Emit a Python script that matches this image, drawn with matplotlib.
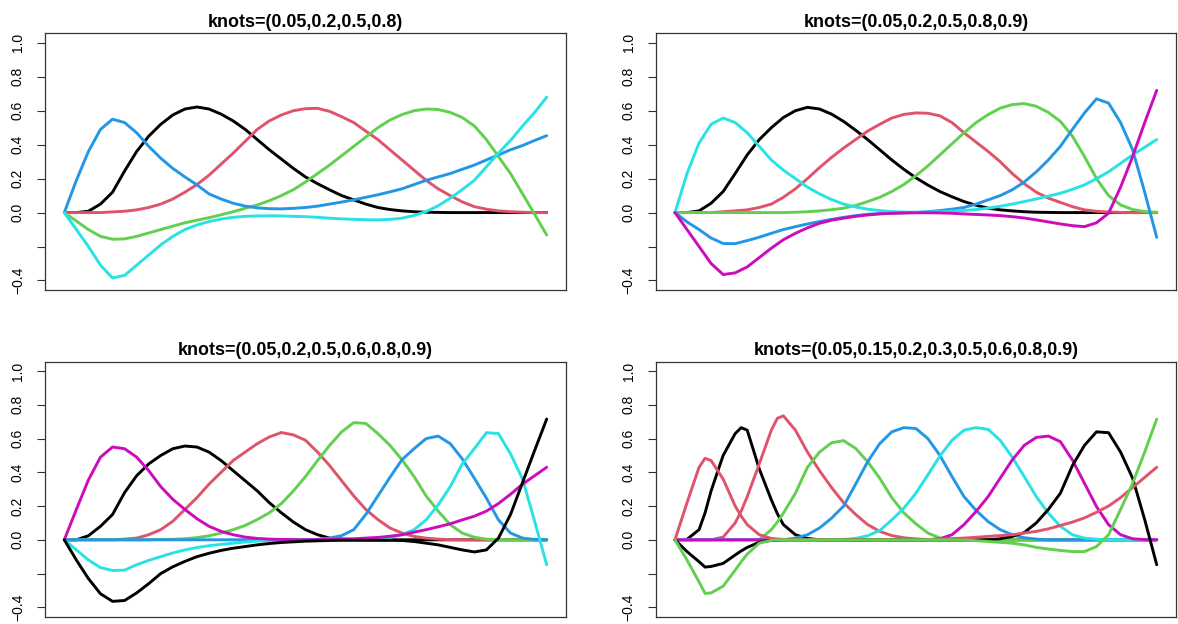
import matplotlib
matplotlib.use("Agg")
import matplotlib.pyplot as plt

plt.rcParams['font.family'] = ['Liberation Sans', 'DejaVu Sans']

# line colours, recycled column by column
palette = ["#000000", "#DF536B", "#61D04F", "#2297E6", "#28E2E5", "#CD0BBC"]

titles = ["knots=(0.05,0.2,0.5,0.8)",
          "knots=(0.05,0.2,0.5,0.8,0.9)",
          "knots=(0.05,0.2,0.5,0.6,0.8,0.9)",
          "knots=(0.05,0.15,0.2,0.3,0.5,0.6,0.8,0.9)"]

# sample positions
xs = [0, .025, .05, .075, .1, .125, .15, .175, .2, .225, .25, .275, .3, .325,
      .35, .375, .4, .425, .45, .475, .5, .525, .55, .575, .6, .625, .65, .675,
      .7, .725, .75, .775, .8, .825, .85, .875, .9, .925, .95, .975, 1.0]
# last panel has narrow bumps near the start, so a few extra samples there
xs4 = [0, .025, .05, .0625, .075, .1, .125, .1375, .15, .175, .2, .2125, .225,
       .25, .275, .3, .325, .35, .375, .4, .425, .45, .475, .5, .525, .55, .575,
       .6, .625, .65, .675, .7, .725, .75, .775, .8, .825, .85, .875, .9, .925,
       .95, .975, 1.0]

# 4 knots -> 5 basis columns
p1_b1 = [0, 0, 0.008, 0.05, 0.12, 0.245, 0.36, 0.45, 0.52, 0.575, 0.61, 0.622,
         0.61, 0.58, 0.54, 0.49, 0.43, 0.37, 0.315, 0.26, 0.21, 0.17, 0.134, 0.1,
         0.075, 0.05, 0.03, 0.018, 0.01, 0.005, 0.002, 0.001] + [0] * 9
p1_b2 = [0, 0, 0, 0, 0.004, 0.008, 0.016, 0.03, 0.05, 0.08, 0.12, 0.165, 0.22,
         0.285, 0.35, 0.42, 0.49, 0.54, 0.575, 0.6, 0.612, 0.614, 0.596, 0.565,
         0.53, 0.48, 0.43, 0.37, 0.31, 0.25, 0.19, 0.14, 0.1, 0.063, 0.035, 0.02,
         0.01, 0.005, 0.002, 0, 0]
p1_b3 = [0, -0.05, -0.1, -0.14, -0.157, -0.155, -0.14, -0.12, -0.1, -0.08, -0.06,
         -0.045, -0.03, -0.013, 0.005, 0.025, 0.045, 0.07, 0.1, 0.135, 0.18, 0.23,
         0.28, 0.335, 0.39, 0.445, 0.5, 0.545, 0.577, 0.6, 0.61, 0.607, 0.59, 0.56,
         0.51, 0.43, 0.33, 0.23, 0.11, -0.01, -0.132]
p1_b4 = [0, 0.19, 0.36, 0.49, 0.55, 0.53, 0.47, 0.39, 0.32, 0.26, 0.21, 0.163,
         0.11, 0.08, 0.055, 0.038, 0.028, 0.023, 0.022, 0.025, 0.03, 0.038, 0.05,
         0.062, 0.075, 0.09, 0.105, 0.122, 0.14, 0.165, 0.19, 0.21, 0.23, 0.255,
         0.28, 0.31, 0.34, 0.37, 0.395, 0.425, 0.453]
p1_b5 = [0, -0.1, -0.2, -0.31, -0.385, -0.37, -0.31, -0.25, -0.19, -0.14, -0.1,
         -0.073, -0.053, -0.038, -0.028, -0.022, -0.02, -0.019, -0.02, -0.022,
         -0.024, -0.028, -0.033, -0.037, -0.04, -0.042, -0.043, -0.04, -0.033,
         -0.017, 0.006, 0.04, 0.085, 0.135, 0.19, 0.27, 0.35, 0.425, 0.51, 0.59,
         0.68]

# 5 knots -> 6 columns
p2_b1 = [0, 0, 0.01, 0.055, 0.124, 0.23, 0.34, 0.43, 0.5, 0.56, 0.6, 0.62, 0.61,
         0.58, 0.537, 0.485, 0.43, 0.37, 0.31, 0.255, 0.205, 0.162, 0.124, 0.093,
         0.065, 0.043, 0.026, 0.016, 0.01, 0.005, 0.002, 0.001] + [0] * 9
p2_b2 = [0, 0, 0, 0, 0.005, 0.01, 0.016, 0.03, 0.05, 0.09, 0.14, 0.2, 0.265,
         0.325, 0.38, 0.43, 0.48, 0.52, 0.557, 0.578, 0.587, 0.585, 0.57, 0.53,
         0.47, 0.415, 0.36, 0.3, 0.23, 0.17, 0.12, 0.085, 0.06, 0.035, 0.016,
         0.008, 0.003, 0.001, 0, 0, 0]
p2_b3 = [0] * 10 + [0.002, 0.005, 0.01, 0.017, 0.026, 0.042, 0.065, 0.09, 0.124,
                    0.165, 0.217, 0.275, 0.34, 0.405, 0.47, 0.53, 0.577, 0.615,
                    0.636, 0.642, 0.626, 0.59, 0.537, 0.45, 0.33, 0.2, 0.1, 0.045,
                    0.018, 0.006, 0.002]
p2_b4 = [0, -0.055, -0.1, -0.15, -0.182, -0.183, -0.165, -0.145, -0.122, -0.1,
         -0.083, -0.067, -0.053, -0.04, -0.028, -0.018, -0.01, -0.006, -0.004,
         -0.002, 0, 0.005, 0.012, 0.02, 0.03, 0.05, 0.075, 0.1, 0.134, 0.18, 0.24,
         0.31, 0.39, 0.49, 0.587, 0.67, 0.645, 0.53, 0.37, 0.12, -0.146]
p2_b5 = [0, 0.23, 0.41, 0.52, 0.557, 0.53, 0.47, 0.39, 0.31, 0.25, 0.2, 0.15, 0.11,
         0.077, 0.05, 0.033, 0.02, 0.012, 0.006, 0.003, 0.002, 0.003, 0.005, 0.008,
         0.012, 0.018, 0.026, 0.037, 0.05, 0.065, 0.08, 0.097, 0.114, 0.137, 0.163,
         0.2, 0.24, 0.29, 0.34, 0.385, 0.43]
p2_b6 = [0, -0.1, -0.2, -0.3, -0.365, -0.355, -0.32, -0.265, -0.21, -0.16, -0.122,
         -0.09, -0.063, -0.045, -0.033, -0.022, -0.014, -0.008, -0.004, -0.002,
         -0.001, -0.001, -0.002, -0.004, -0.008, -0.011, -0.014, -0.018, -0.024,
         -0.032, -0.043, -0.055, -0.067, -0.077, -0.083, -0.06, -0.004, 0.15, 0.33,
         0.53, 0.72]

# 6 knots -> 7 columns
p3_b1 = [0, 0, 0.024, 0.08, 0.15, 0.28, 0.38, 0.45, 0.5, 0.54, 0.556, 0.55, 0.52,
         0.47, 0.41, 0.35, 0.29, 0.22, 0.16, 0.105, 0.06, 0.03, 0.01, 0.004,
         0.002] + [0] * 16
p3_b2 = [0, 0, 0, 0, 0, 0.004, 0.01, 0.03, 0.06, 0.11, 0.18, 0.25, 0.33, 0.4, 0.47,
         0.52, 0.57, 0.61, 0.636, 0.622, 0.59, 0.52, 0.44, 0.35, 0.26, 0.18, 0.12,
         0.07, 0.04, 0.02, 0.01, 0.004, 0.001] + [0] * 8
p3_b3 = [0] * 8 + [0.002, 0.003, 0.006, 0.013, 0.024, 0.04, 0.06, 0.085, 0.12,
                   0.16, 0.215, 0.29, 0.375, 0.47, 0.56, 0.64, 0.695, 0.69, 0.63,
                   0.56, 0.475, 0.375, 0.26, 0.17, 0.09, 0.04, 0.015, 0.004, 0.001,
                   0, 0, 0, 0]
p3_b4 = [0] * 21 + [0.003, 0.01, 0.025, 0.06, 0.15, 0.26, 0.37, 0.475, 0.54, 0.6,
                    0.615, 0.57, 0.48, 0.365, 0.247, 0.118, 0.04, 0.01, 0.002, 0]
p3_b5 = [0, -0.06, -0.12, -0.165, -0.182, -0.18, -0.148, -0.122, -0.1, -0.078,
         -0.06, -0.046, -0.035, -0.027, -0.02, -0.013, -0.008, -0.005, -0.003,
         -0.001, 0, 0, 0, 0, 0.001, 0.002, 0.004, 0.013, 0.03, 0.06, 0.118, 0.207,
         0.315, 0.45, 0.54, 0.635, 0.63, 0.51, 0.36, 0.11, -0.148]
p3_b6 = [0, 0.18, 0.355, 0.49, 0.55, 0.54, 0.49, 0.41, 0.315, 0.24, 0.18, 0.125,
         0.08, 0.05, 0.03, 0.016, 0.008, 0.004, 0.002, 0.001, 0, 0.001, 0.002,
         0.004, 0.006, 0.01, 0.014, 0.021, 0.03, 0.045, 0.06, 0.077, 0.095, 0.118,
         0.14, 0.17, 0.215, 0.27, 0.33, 0.38, 0.43]
p3_b7 = [0, -0.12, -0.23, -0.32, -0.365, -0.36, -0.315, -0.26, -0.2, -0.16, -0.128,
         -0.1, -0.08, -0.063, -0.05, -0.04, -0.03, -0.022, -0.016, -0.012, -0.008,
         -0.006, -0.004, -0.003, -0.003, -0.003, -0.003, -0.003, -0.004, -0.01,
         -0.02, -0.03, -0.045, -0.06, -0.072, -0.06, 0.01, 0.15, 0.34, 0.53, 0.716]

# 8 knots -> 9 columns (sampled at xs4)
p4_b1 = [0, 0.003, 0.06, 0.16, 0.29, 0.5, 0.63, 0.665, 0.65, 0.42, 0.237, 0.155,
         0.09, 0.03, 0.008, 0] + [0] * 28
p4_b2 = [0, 0, 0, 0, 0, 0.016, 0.1, 0.17, 0.256, 0.45, 0.65, 0.72, 0.735, 0.65,
         0.52, 0.41, 0.31, 0.22, 0.15, 0.09, 0.05, 0.025, 0.012, 0.005,
         0.002] + [0] * 19
p4_b3 = [0] * 10 + [0.06, 0.105, 0.158, 0.276, 0.43, 0.52, 0.575, 0.588, 0.542,
                    0.463, 0.365, 0.25, 0.16, 0.095, 0.04, 0.01, 0.002] + [0] * 17
p4_b4 = [0] * 13 + [0.01, 0.03, 0.07, 0.128, 0.2, 0.33, 0.463, 0.57, 0.64, 0.665,
                    0.66, 0.6, 0.5, 0.375, 0.256, 0.174, 0.108, 0.06, 0.03, 0.012,
                    0.004] + [0] * 10
p4_b5 = [0] * 17 + [0.002, 0.008, 0.024, 0.055, 0.118, 0.187, 0.276, 0.385, 0.497,
                    0.59, 0.65, 0.665, 0.655, 0.59, 0.49, 0.375, 0.256, 0.158, 0.08,
                    0.03, 0.01, 0.003] + [0] * 5
p4_b6 = [0] * 25 + [0.006, 0.03, 0.09, 0.168, 0.256, 0.365, 0.473, 0.56, 0.607,
                    0.615, 0.582, 0.473, 0.335, 0.197, 0.09, 0.03, 0.006, 0.001, 0]
p4_b7 = [0, -0.07, -0.13, -0.162, -0.158, -0.14, -0.09, -0.066, -0.045, -0.015,
         -0.003, -0.001] + [0] * 18 + \
        [0.006, 0.02, 0.043, 0.1, 0.18, 0.276, 0.44, 0.56, 0.64, 0.635, 0.52, 0.365,
         0.12, -0.148]
p4_b8 = [0, 0.22, 0.43, 0.483, 0.47, 0.36, 0.2, 0.14, 0.09, 0.03, 0.008, 0.005,
         0.002] + [0] * 11 + \
        [0.002, 0.004, 0.007, 0.01, 0.015, 0.02, 0.025, 0.03, 0.04, 0.05, 0.065,
         0.085, 0.105, 0.13, 0.163, 0.2, 0.25, 0.31, 0.37, 0.43]
p4_b9 = [0, -0.12, -0.25, -0.318, -0.315, -0.275, -0.18, -0.13, -0.085, -0.02,
         -0.003, -0.001] + [0] * 15 + \
        [-0.002, -0.005, -0.01, -0.015, -0.02, -0.03, -0.045, -0.055, -0.063, -0.07,
         -0.07, -0.04, 0.03, 0.18, 0.335, 0.52, 0.716]

panels = [
    (xs, [p1_b1, p1_b2, p1_b3, p1_b4, p1_b5]),
    (xs, [p2_b1, p2_b2, p2_b3, p2_b4, p2_b5, p2_b6]),
    (xs, [p3_b1, p3_b2, p3_b3, p3_b4, p3_b5, p3_b6, p3_b7]),
    (xs4, [p4_b1, p4_b2, p4_b3, p4_b4, p4_b5, p4_b6, p4_b7, p4_b8, p4_b9]),
]

yticks = [-0.4, -0.2, 0.0, 0.2, 0.4, 0.6, 0.8, 1.0]
ytick_labels = ["\u22120.4", "", "0.0", "0.2", "0.4", "0.6", "0.8", "1.0"]

W, H = 1178, 624
# plot boxes in pixels: left, top, right, bottom
boxes = [(45, 33.3, 566, 290), (655.7, 33.3, 1176, 290),
         (45, 361.7, 566, 616.7), (655.7, 361.7, 1176, 616.7)]

fig = plt.figure(figsize=(W / 100, H / 100), dpi=100)

for (l, t, r, b), (x, cols), title in zip(boxes, panels, titles):
    ax = fig.add_axes([l / W, 1 - b / H, (r - l) / W, (b - t) / H])
    for i, col in enumerate(cols):
        ax.plot(x, col, color=palette[i % len(palette)], lw=2.1,
                solid_capstyle='round', solid_joinstyle='round')
    ax.set_xlim(-0.04, 1.04)
    ax.set_ylim(-0.456, 1.056)
    ax.set_xticks([])
    ax.set_yticks(yticks)
    ax.set_yticklabels(ytick_labels, rotation=90, va='center', fontsize=10)
    ax.tick_params(axis='y', length=6, width=0.8, pad=8.5, color='#333333')
    for s in ax.spines.values():
        s.set_color('#333333')
        s.set_linewidth(0.9)
    ax.set_title(title, fontsize=12.9, fontweight='bold', pad=4.5)

fig.savefig("out.png", dpi=100)
